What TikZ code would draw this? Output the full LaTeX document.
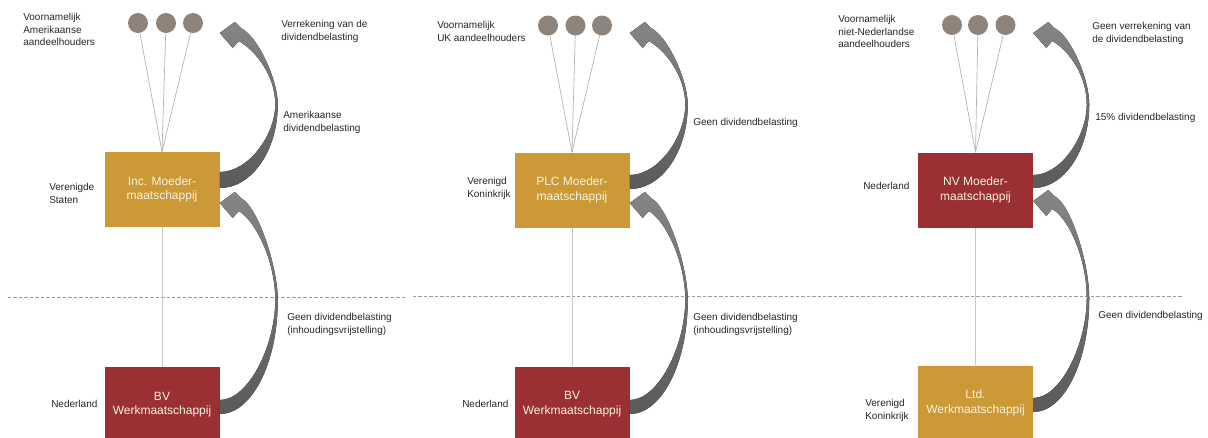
\documentclass[tikz,border=0pt]{standalone}
\usepackage{fontspec}
\setmainfont{Liberation Sans}
\definecolor{gold}{HTML}{CB9A36}
\definecolor{wine}{HTML}{9A3033}
\definecolor{holdercol}{HTML}{8F847C}
\definecolor{fan}{HTML}{B8AEA8}
\definecolor{txt}{HTML}{262626}
\definecolor{arrtop}{HTML}{858585}
\definecolor{arrbot}{HTML}{5A5A5A}
\definecolor{dashcol}{HTML}{A39A94}
\definecolor{boxtxt}{HTML}{F8F1E4}
\tikzset{
 company/.style={minimum width=86.25pt, minimum height=56.25pt, inner sep=0pt, align=center, text=boxtxt, font=\fontsize{9}{11}\selectfont},
 goldbox/.style={company, fill=gold},
 winebox/.style={company, fill=wine},
 holderdot/.style={circle, fill=holdercol, minimum size=15pt, inner sep=0pt},
 lbl/.style={anchor=north west, inner sep=0pt, align=left, text=txt, font=\fontsize{7.5}{9.4}\selectfont},
 fanline/.style={draw=fan, line width=0.5pt},
 vline/.style={draw=black!22, line width=0.6pt},
 divider/.style={draw=dashcol, line width=0.75pt, dash pattern=on 2.6pt off 1.5pt},
 arrowfill/.style={top color=arrtop, bottom color=arrbot, draw=none},
}
% #1 tip coordinate, #2 height, #3 base thickness, #4 bulge width
\newcommand\bendarrow[4]{%
\begin{scope}[shift={(#1)}]
\fill[arrowfill] (0,0) -- (15,-11) -- (21,-5)
 .. controls (38,3) and (#4,{0.3*#2}) .. (#4,{0.46*#2})
 .. controls (#4,{0.46*#2+0.3*#2}) and ({0.55*#4},#2) .. (0,#2)
 -- (0,{#2-#3})
 .. controls ({0.5*#4},{#2-#3}) and ({#4-2.5},{0.46*#2+0.45*(0.54*#2-#3)}) .. ({#4-2.5},{0.46*#2})
 .. controls ({#4-2.5},{0.27*#2}) and (35,17) .. (19,8)
 -- (13,15) -- cycle;
\end{scope}}
\begin{document}
\begin{tikzpicture}[x=0.75pt,y=-0.75pt]
\clip (0,0) rectangle (1208,437);
\draw[divider] (8,297) -- (405,297);
\draw[divider] (413,296.5) -- (1182,296.5);

% ---------- panel 1
\node[goldbox] (m1) at (162,189.5) {Inc. Moeder-\\maatschappij};
\node[winebox] (w1) at (162,404.5) {BV\\Werkmaatschappij};
\node[holderdot] (s11) at (138,23) {};
\node[holderdot] (s12) at (166,23) {};
\node[holderdot] (s13) at (193,23) {};
\draw[fanline] (s11) -- (m1.north);
\draw[fanline] (s12) -- (m1.north);
\draw[fanline] (s13) -- (m1.north);
\draw[vline] (m1.south) -- (w1.north);
\path (m1.east) ++(0,-156.5) coordinate (t1);
\bendarrow{t1}{155}{16}{58}
\path (w1.east) ++(0,-201.5) coordinate (t1b);
\bendarrow{t1b}{211}{14}{58}
\node[lbl] (l11) at (23,13) {Voornamelijk\\Amerikaanse\\aandeelhouders};
\node[lbl] (l12) at (49,183) {Verenigde\\Staten};
\node[lbl] (l13) at (51,400) {Nederland};
\node[lbl] (l14) at (281,20) {Verrekening van de\\dividendbelasting};
\node[lbl] (l15) at (283,111) {Amerikaanse\\dividendbelasting};
\node[lbl] (l16) at (287,313) {Geen dividendbelasting\\(inhoudingsvrijstelling)};

% ---------- panel 2
\node[goldbox] (m2) at (572,190) {PLC Moeder-\\maatschappij};
\node[winebox] (w2) at (572,404) {BV\\Werkmaatschappij};
\node[holderdot] (s21) at (548,25.5) {};
\node[holderdot] (s22) at (575.5,25.5) {};
\node[holderdot] (s23) at (602,25.5) {};
\draw[fanline] (s21) -- (m2.north);
\draw[fanline] (s22) -- (m2.north);
\draw[fanline] (s23) -- (m2.north);
\draw[vline] (m2.south) -- (w2.north);
\path (m2.east) ++(0,-157) coordinate (t2);
\bendarrow{t2}{156}{14}{58}
\path (w2.east) ++(0,-201) coordinate (t2b);
\bendarrow{t2b}{211}{14}{58}
\node[lbl] (l21) at (437,21) {Voornamelijk\\UK aandeelhouders};
\node[lbl] (l22) at (467,177) {Verenigd\\Koninkrijk};
\node[lbl] (l23) at (462,400) {Nederland};
\node[lbl] (l24) at (693,118) {Geen dividendbelasting};
\node[lbl] (l25) at (693,313) {Geen dividendbelasting\\(inhoudingsvrijstelling)};

% ---------- panel 3
\node[winebox] (m3) at (975.5,190) {NV Moeder-\\maatschappij};
\node[goldbox] (w3) at (975.5,403) {Ltd.\\Werkmaatschappij};
\node[holderdot] (s31) at (952,25) {};
\node[holderdot] (s32) at (978,25) {};
\node[holderdot] (s33) at (1005.5,25) {};
\draw[fanline] (s31) -- (m3.north);
\draw[fanline] (s32) -- (m3.north);
\draw[fanline] (s33) -- (m3.north);
\draw[vline] (m3.south) -- (w3.north);
\path (m3.east) ++(0,-157) coordinate (t3);
\bendarrow{t3}{155}{13}{56}
\path (w3.east) ++(0,-202) coordinate (t3b);
\bendarrow{t3b}{211}{14}{56}
\node[lbl] (l31) at (838,15) {Voornamelijk\\niet-Nederlandse\\aandeelhouders};
\node[lbl] (l32) at (863,182) {Nederland};
\node[lbl] (l33) at (865,399) {Verenigd\\Koninkrijk};
\node[lbl] (l34) at (1092,22) {Geen verrekening van\\de dividendbelasting};
\node[lbl] (l35) at (1095,113) {15\% dividendbelasting};
\node[lbl] (l36) at (1098,311) {Geen dividendbelasting};
\end{tikzpicture}
\end{document}
